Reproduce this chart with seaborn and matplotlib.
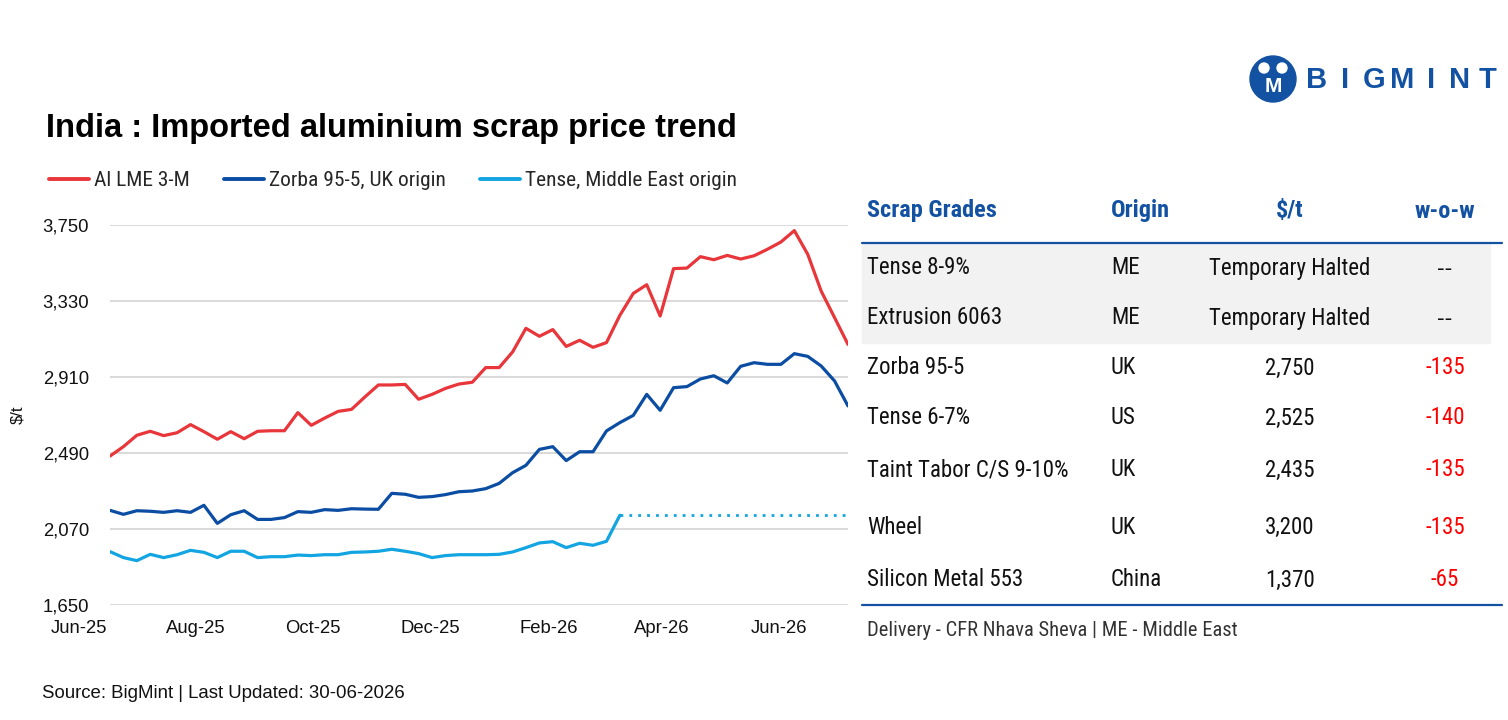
import numpy as np
import pandas as pd
import matplotlib
matplotlib.use('Agg')
import matplotlib.pyplot as plt
import matplotlib.dates as mdates
from matplotlib.lines import Line2D
from matplotlib.patches import Rectangle, Circle
import seaborn as sns

# Weekly price assessments ($/t)
dates = pd.date_range('2025-06-17', periods=56, freq='7D')

al_lme = [2473, 2525, 2588, 2610, 2586, 2602, 2647, 2608, 2566, 2608,
          2569, 2610, 2613, 2613, 2713, 2643, 2683, 2720, 2731, 2800,
          2866, 2866, 2869, 2787, 2814, 2847, 2871, 2881, 2962, 2962,
          3048, 3179, 3135, 3172, 3079, 3113, 3074, 3100, 3251, 3372,
          3420, 3247, 3509, 3512, 3575, 3558, 3582, 3562, 3580, 3616,
          3656, 3719, 3588, 3385, 3238, 3090]

zorba = [2173, 2151, 2171, 2168, 2162, 2171, 2162, 2201, 2101, 2149,
         2171, 2123, 2123, 2133, 2166, 2162, 2177, 2173, 2182, 2180,
         2179, 2267, 2262, 2245, 2249, 2260, 2276, 2280, 2293, 2322,
         2381, 2422, 2510, 2525, 2448, 2497, 2497, 2612, 2658, 2698,
         2814, 2726, 2851, 2857, 2899, 2917, 2877, 2969, 2989, 2980,
         2980, 3039, 3024, 2971, 2888, 2750]

# Tense ME: assessed until trade halted, then carried flat (dotted)
tense_me = [1945, 1912, 1895, 1930, 1912, 1928, 1952, 1941, 1912, 1947,
            1947, 1912, 1917, 1917, 1926, 1923, 1928, 1928, 1941, 1943,
            1947, 1958, 1947, 1934, 1912, 1923, 1928, 1928, 1928, 1930,
            1943, 1967, 1993, 2000, 1967, 1991, 1980, 2002, 2146]
tense_halted = [2146, 2146, 2146, 2146, 2146, 2146, 2146, 2146, 2146,
                2146, 2146, 2146, 2146, 2146, 2146, 2146, 2146, 2146]

y_ticks = [1650, 2070, 2490, 2910, 3330, 3750]
x_tick_months = ['2025-06-01', '2025-08-01', '2025-10-01', '2025-12-01',
                 '2026-02-01', '2026-04-01', '2026-06-01']

series_names = ['Al LME 3-M', 'Zorba 95-5, UK origin', 'Tense, Middle East origin']
colors = ['#E8363B', '#0B4DA2', '#12A5E2']

# Table data
grades = ['Tense 8-9%', 'Extrusion 6063', 'Zorba 95-5', 'Tense 6-7%',
          'Taint Tabor C/S 9-10%', 'Wheel', 'Silicon Metal 553']
origins = ['ME', 'ME', 'UK', 'US', 'UK', 'UK', 'China']
prices = ['Temporary Halted', 'Temporary Halted', '2,750', '2,525',
          '2,435', '3,200', '1,370']
wow = ['--', '--', '-135', '-140', '-135', '-135', '-65']

sns.set_theme(style='white')
plt.rcParams['font.family'] = ['Liberation Sans', 'DejaVu Sans']
NARROW = ['Roboto Condensed', 'Liberation Sans']

W, H = 1508, 720
fig = plt.figure(figsize=(W / 100, H / 100), dpi=100)
fig.patch.set_facecolor('white')

# Main line chart
ax = fig.add_axes([110 / W, 1 - 605 / H, 738 / W, 380 / H])
n_t = len(tense_me)
df = pd.DataFrame({'date': dates, 'al': al_lme, 'zorba': zorba})
df_t = pd.DataFrame({'date': dates[:n_t], 'v': tense_me})
df_h = pd.DataFrame({'date': dates[n_t - 1:], 'v': tense_halted})

sns.lineplot(data=df, x='date', y='al', color=colors[0], lw=2.3, ax=ax)
sns.lineplot(data=df, x='date', y='zorba', color=colors[1], lw=2.3, ax=ax)
sns.lineplot(data=df_t, x='date', y='v', color=colors[2], lw=2.3, ax=ax)
sns.lineplot(data=df_h, x='date', y='v', color=colors[2], lw=2.0,
             linestyle=(0, (1, 2.2)), ax=ax)

ax.set_xlim(dates[0], dates[-1])
ax.set_ylim(y_ticks[0], y_ticks[-1])
ax.set_yticks(y_ticks)
ax.set_yticklabels([f'{v:,}' for v in y_ticks])
ax.yaxis.grid(True, color='#D9D9D9', lw=1.4)
ax.xaxis.grid(False)
for s in ax.spines.values():
    s.set_visible(False)
ax.set_xlabel('')
ax.set_ylabel('')

tick_dates = pd.to_datetime(x_tick_months)
inside = [d for d in tick_dates if d >= dates[0]]
ax.set_xticks(inside)
ax.xaxis.set_major_formatter(mdates.DateFormatter('%b-%y'))
ax.tick_params(axis='both', length=0, labelsize=13.3, colors='#111111')
ax.tick_params(axis='x', pad=11)
ax.tick_params(axis='y', pad=15)
# first month label sits left of the plotted range
for d in tick_dates:
    if d < dates[0]:
        ax.annotate(d.strftime('%b-%y'), xy=(mdates.date2num(d), 0),
                    xycoords=ax.get_xaxis_transform(), xytext=(0, -11),
                    textcoords='offset points', ha='center', va='top',
                    fontsize=13.3, color='#111111', annotation_clip=False)

fig.text(18 / W, 1 - 415 / H, '$/t', rotation=90, ha='center', va='center',
         fontsize=12, color='#111111')

# Legend
handles = [Line2D([0], [0], color=c, lw=2.8) for c in colors]
fig.legend(handles, series_names, loc='center left',
           bbox_to_anchor=(30 / W, 1 - 181 / H), ncol=3, frameon=False,
           handlelength=1.87, handletextpad=0.23, columnspacing=1.6,
           prop={'family': NARROW, 'size': 15.4})

# Title
fig.text(46 / W, 1 - 128 / H, 'India : Imported aluminium scrap price trend',
         ha='left', va='center', fontsize=23.5, fontweight='bold',
         color='#000000')

# Source
fig.text(42 / W, 1 - 694 / H, 'Source: BigMint | Last Updated: 30-06-2026',
         ha='left', va='center', fontsize=13.4, color='#111111')

# Overlay in pixel coordinates for table and logo
tax = fig.add_axes([0, 0, 1, 1])
tax.set_xlim(0, W)
tax.set_ylim(H, 0)
tax.axis('off')

blue = '#1352A2'
tax.add_patch(Rectangle((862, 243), 628, 100, color='#F2F2F2', zorder=0))
tax.plot([862, 1502], [243, 243], color=blue, lw=1.6)
tax.plot([862, 1502], [605, 605], color=blue, lw=1.6)

hy = 211
head_kw = dict(va='center', color=blue, fontsize=17.5, fontweight='bold',
               family=NARROW)
tax.text(867, hy, 'Scrap Grades', ha='left', **head_kw)
tax.text(1111, hy, 'Origin', ha='left', **head_kw)
tax.text(1290, hy, '$/t', ha='center', **head_kw)
tax.text(1445, hy, 'w-o-w', ha='center', **head_kw)

row_y = [268, 318, 368, 418, 470, 527, 580]
row_kw = dict(va='center', fontsize=16.5)
for y, g, o, p, w in zip(row_y, grades, origins, prices, wow):
    tax.text(867, y, g, ha='left', color='#111111', family=NARROW, **row_kw)
    tax.text(1111, y, o, ha='left', color='#111111', family=NARROW, **row_kw)
    tax.text(1290, y, p, ha='center', color='#111111', family=NARROW, **row_kw)
    if w == '--':
        tax.text(1445, y, w, ha='center', color='#111111',
                 family=['Liberation Sans'], **row_kw)
    else:
        tax.text(1445, y, w, ha='center', color='#FF0000',
                 family=NARROW, **row_kw)

tax.text(867, 631, 'Delivery - CFR Nhava Sheva | ME - Middle East',
         ha='left', va='center', fontsize=14.8, color='#333333', family=NARROW)

# BigMint logo
tax.add_patch(Circle((1273, 79), 23, color=blue, zorder=3))
tax.add_patch(Circle((1264, 68), 5, color='white', zorder=4))
tax.add_patch(Circle((1282, 68), 5, color='white', zorder=4))
tax.text(1273, 86, 'M', ha='center', va='center', color='white',
         fontsize=15, fontweight='bold', zorder=5)
for i, ch in enumerate('BIGMINT'):
    tax.text(1317 + i * 28.5, 80, ch, ha='center', va='center', color=blue,
             fontsize=21, fontweight='bold')

fig.savefig('out.png', dpi=100, facecolor='white')
